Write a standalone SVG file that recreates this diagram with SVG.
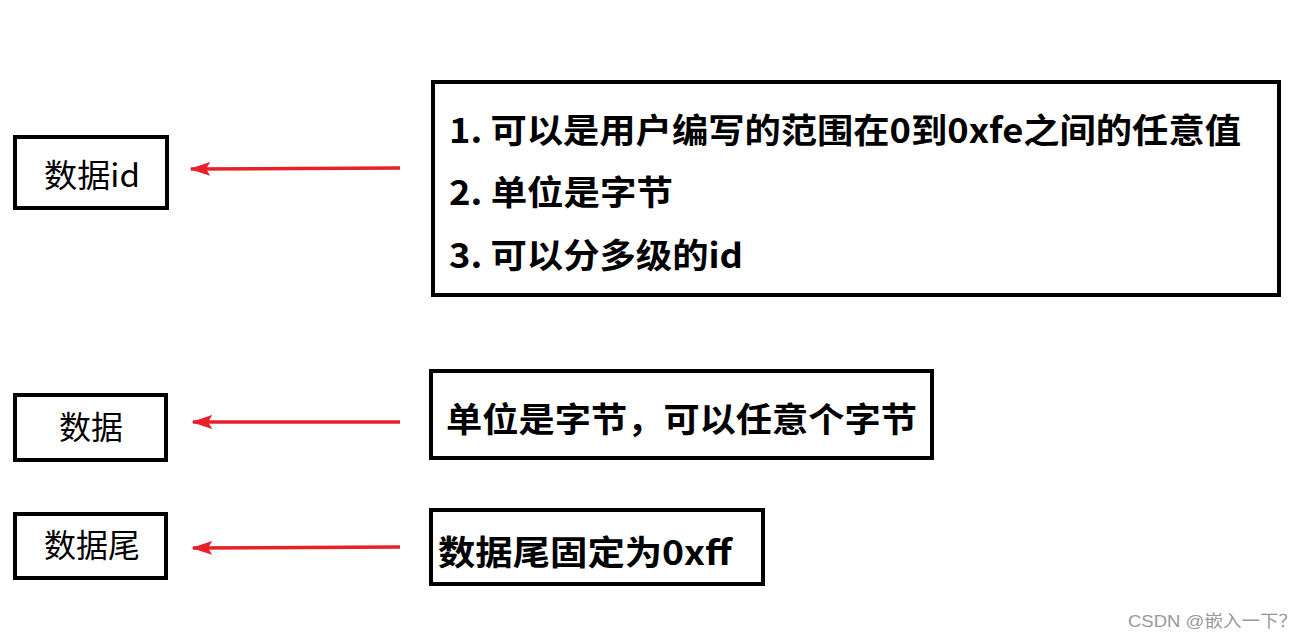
<svg xmlns="http://www.w3.org/2000/svg" width="1310" height="640" viewBox="0 0 1310 640">
<style>
.box{fill:#fff;stroke:#000;stroke-width:4}
.lbl{font-family:"Noto Sans CJK SC","Microsoft YaHei",sans-serif;font-size:32px;fill:#000;text-anchor:middle}
.note{font-family:"Noto Sans CJK SC","Microsoft YaHei",sans-serif;font-size:34px;font-weight:bold;fill:#000}
.arr{stroke:#e8202a;stroke-width:3.5;fill:none}
.wm{font-family:"Liberation Sans","Noto Sans CJK SC",sans-serif;font-size:17px;fill:#999}
</style>
<defs>
<marker id="ah" markerWidth="6" markerHeight="4" refX="5.5" refY="2" orient="auto" markerUnits="strokeWidth">
<path d="M0,0 L6,2 L0,4 L1.2,2 Z" fill="#e8202a"/>
</marker>
</defs>
<rect width="1310" height="640" fill="#fff"/>
<g id="connectors">
<line class="arr" x1="400" y1="168" x2="191" y2="169" marker-end="url(#ah)"/>
<line class="arr" x1="400" y1="422" x2="193" y2="422" marker-end="url(#ah)"/>
<line class="arr" x1="400" y1="547" x2="193" y2="548" marker-end="url(#ah)"/>
</g>
<g id="node-id">
<rect class="box" x="15" y="137" width="152" height="71"/>
<text class="lbl" x="92" y="187" textLength="96" lengthAdjust="spacingAndGlyphs">数据id</text>
</g>
<g id="node-data">
<rect class="box" x="15" y="395" width="151" height="65"/>
<text class="lbl" x="91" y="439">数据</text>
</g>
<g id="node-tail">
<rect class="box" x="15" y="514" width="151" height="64"/>
<text class="lbl" x="92" y="557">数据尾</text>
</g>
<g id="note-id">
<rect class="box" x="433" y="82" width="846" height="213"/>
<text class="note" x="449" y="143" textLength="792" lengthAdjust="spacingAndGlyphs">1. 可以是用户编写的范围在0到0xfe之间的任意值</text>
<text class="note" x="449" y="205" textLength="224" lengthAdjust="spacingAndGlyphs">2. 单位是字节</text>
<text class="note" x="449" y="268" textLength="294" lengthAdjust="spacingAndGlyphs">3. 可以分多级的id</text>
</g>
<g id="note-data">
<rect class="box" x="431" y="371" width="501" height="87"/>
<text class="note" x="446" y="432" textLength="471" lengthAdjust="spacingAndGlyphs">单位是字节，可以任意个字节</text>
</g>
<g id="note-tail">
<rect class="box" x="431" y="510" width="332" height="74"/>
<text class="note" x="438" y="565" textLength="294" lengthAdjust="spacingAndGlyphs">数据尾固定为0xff</text>
</g>
<text class="wm" x="1128" y="627" textLength="169" lengthAdjust="spacingAndGlyphs">CSDN @嵌入一下？</text>
</svg>
